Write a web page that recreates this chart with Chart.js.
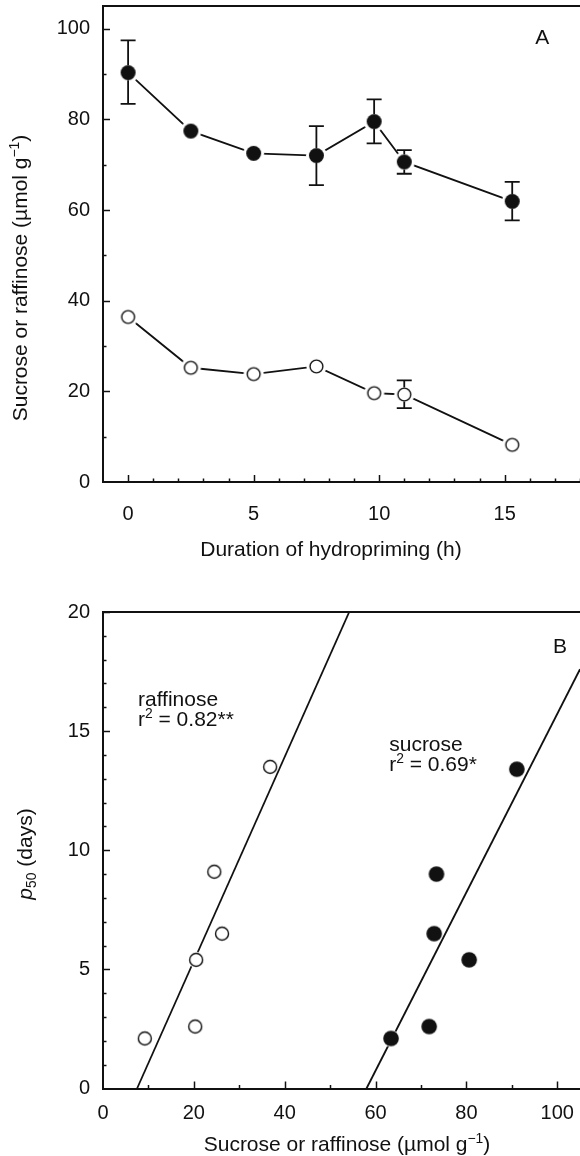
<!DOCTYPE html>
<html>
<head>
<meta charset="utf-8">
<script src="https://cdn.jsdelivr.net/npm/chart.js@4.4.1/dist/chart.umd.min.js"></script>
<style>
  html, body { margin: 0; padding: 0; background: #fff; }
  body { width: 580px; height: 1156px; position: relative; overflow: hidden; }
  canvas { position: absolute; left: 0; }
  #chartA { top: 0; }
  #chartB { top: 580px; }
</style>
</head>
<body>
<canvas id="chartA" width="580" height="575"></canvas>
<canvas id="chartB" width="580" height="576"></canvas>
<script>
// ---- panel A: sugar content during hydropriming ----
const hours = [0, 2.5, 5, 7.5, 9.8, 11, 15.3];
const sucrose = [90.3, 77.4, 72.5, 72.0, 79.5, 70.6, 61.9];
const sucroseHigh = [97.4, null, null, 78.5, 84.4, 73.2, 66.2];
const sucroseLow = [83.4, null, null, 65.5, 74.7, 68.0, 57.7];
const raffinose = [36.4, 25.2, 23.8, 25.5, 19.6, 19.3, 8.2];
const raffinoseHigh = [null, null, null, null, null, 22.4, null];
const raffinoseLow = [null, null, null, null, null, 16.3, null];
const hourLabels = [0, 5, 10, 15];
const contentLabelsA = [0, 20, 40, 60, 80, 100];

// ---- panel B: p50 against sugar content ----
const raffinoseContent = [9.2, 20.3, 20.5, 26.2, 24.5, 36.8];
const raffinoseP50 = [2.1, 2.6, 5.4, 6.5, 9.1, 13.5];
const sucroseContent = [63.4, 71.8, 72.9, 80.6, 73.4, 91.1];
const sucroseP50 = [2.1, 2.6, 6.5, 5.4, 9.0, 13.4];
const raffinoseFitX = [7.5, 54.2];
const raffinoseFitY = [0, 20];
const sucroseFitX = [58.0, 105];
const sucroseFitY = [0, 17.6];
const contentLabelsB = [0, 20, 40, 60, 80, 100];
const p50Labels = [0, 5, 10, 15, 20];

const INK = '#111';
const FONT = '"Liberation Sans", Arial, Helvetica, sans-serif';

function pts(xs, ys) {
    return xs.map((x, i) => ({x: x, y: ys[i]}));
}

// circle marker with a white halo so lines stop short of it
function marker(filled, r, halo, lw) {
    const size = Math.ceil(2 * (r + halo) + 2);
    const c = document.createElement('canvas');
    c.width = c.height = size;
    const g = c.getContext('2d');
    const m = size / 2;
    if (halo > 0) {
        g.fillStyle = '#fff';
        g.beginPath(); g.arc(m, m, r + halo, 0, Math.PI * 2); g.fill();
    }
    g.beginPath();
    g.arc(m, m, filled ? r : r - lw / 2, 0, Math.PI * 2);
    if (filled) {
        g.fillStyle = INK; g.fill();
    } else {
        g.fillStyle = '#fff'; g.fill();
        g.lineWidth = lw; g.strokeStyle = INK; g.stroke();
    }
    return c;
}

function richText(ctx, parts, x, y, size, align, rot) {
    ctx.save();
    ctx.translate(x, y);
    if (rot) ctx.rotate(rot);
    const items = parts.map(p => {
        const small = p.sup || p.sub;
        const s = small ? size * 0.66 : size;
        const font = (p.it ? 'italic ' : '') + s + 'px ' + FONT;
        ctx.font = font;
        return {t: p.t, font: font, w: ctx.measureText(p.t).width,
                dy: p.sup ? -size * 0.38 : (p.sub ? size * 0.2 : 0)};
    });
    const total = items.reduce((a, b) => a + b.w, 0);
    let cx = align === 'left' ? 0 : -total / 2;
    const base = size * 0.36;
    ctx.fillStyle = INK;
    ctx.textAlign = 'left';
    ctx.textBaseline = 'alphabetic';
    items.forEach(it => {
        ctx.font = it.font;
        ctx.fillText(it.t, cx, base + it.dy);
        cx += it.w;
    });
    ctx.restore();
}

// inward tick marks, top frame line, error bars and text
function figurePlugin(cfg) {
    return {
        id: 'figure',
        afterDatasetsDraw(chart) {
            const ctx = chart.ctx;
            const xs = chart.scales.x, ys = chart.scales.y;
            ctx.save();
            ctx.strokeStyle = INK;
            ctx.lineWidth = 1.8;
            (cfg.errorBars || []).forEach(eb => {
                eb.xs.forEach((xv, i) => {
                    const px = xs.getPixelForValue(xv);
                    const py = ys.getPixelForValue(eb.ys[i]);
                    [eb.hi[i], eb.lo[i]].forEach(v => {
                        if (v === null) return;
                        const pv = ys.getPixelForValue(v);
                        const dir = pv < py ? -1 : 1;
                        if (Math.abs(pv - py) <= eb.r) return;
                        ctx.beginPath();
                        ctx.moveTo(px, py + dir * eb.r);
                        ctx.lineTo(px, pv);
                        ctx.moveTo(px - 7.5, pv);
                        ctx.lineTo(px + 7.5, pv);
                        ctx.stroke();
                    });
                });
            });
            ctx.restore();
        },
        afterDraw(chart) {
            const ctx = chart.ctx;
            const a = chart.chartArea;
            const xs = chart.scales.x, ys = chart.scales.y;
            ctx.save();
            ctx.strokeStyle = INK;
            ctx.lineWidth = 1.5;
            xs.ticks.forEach(t => {
                if (t.value === xs.min) return;
                const px = Math.round(xs.getPixelForValue(t.value)) + 0.5;
                const len = cfg.xLabels.includes(t.value) ? 7 : 3.5;
                ctx.beginPath(); ctx.moveTo(px, a.bottom); ctx.lineTo(px, a.bottom - len); ctx.stroke();
            });
            ys.ticks.forEach(t => {
                if (t.value === ys.min) return;
                const py = Math.round(ys.getPixelForValue(t.value)) + 0.5;
                const len = cfg.yLabels.includes(t.value) ? 7 : 3.5;
                ctx.beginPath(); ctx.moveTo(a.left, py); ctx.lineTo(a.left + len, py); ctx.stroke();
            });
            ctx.lineWidth = 2;
            ctx.beginPath(); ctx.moveTo(a.left, a.top); ctx.lineTo(a.right, a.top); ctx.stroke();
            ctx.restore();

            cfg.texts.forEach(tx => {
                let x = tx.x, y = tx.y;
                if (tx.data) {
                    x = xs.getPixelForValue(tx.x);
                    y = ys.getPixelForValue(tx.y);
                }
                richText(ctx, tx.parts, x, y, tx.size, tx.align, tx.rot);
            });
        }
    };
}

function axis(min, max, step, labels, padding, fit) {
    return {
        type: 'linear',
        min: min,
        max: max,
        grid: {display: false, drawTicks: false},
        border: {display: true, color: INK, width: 2},
        ticks: {
            stepSize: step,
            includeBounds: false,
            autoSkip: false,
            maxRotation: 0,
            padding: padding,
            color: INK,
            font: {family: FONT, size: 20},
            callback: v => labels.includes(v) ? v : ''
        },
        afterFit: s => {
            // fixed axis boxes, no extra room for edge labels
            s.paddingLeft = s.paddingRight = s.paddingTop = s.paddingBottom = 0;
            fit(s);
        }
    };
}

const baseOptions = {
    responsive: false,
    animation: false,
    events: [],
    plugins: {legend: {display: false}, tooltip: {enabled: false}}
};

const filledA = marker(true, 7.5, 3, 1.5);
const openA = marker(false, 7.1, 3, 1.4);

new Chart(document.getElementById('chartA'), {
    type: 'scatter',
    data: {
        datasets: [{
            label: 'Sucrose',
            data: pts(hours, sucrose),
            showLine: true,
            borderColor: INK,
            borderWidth: 1.8,
            pointStyle: filledA,
            pointRadius: 8
        }, {
            label: 'Raffinose',
            data: pts(hours, raffinose),
            showLine: true,
            borderColor: INK,
            borderWidth: 1.8,
            pointStyle: openA,
            pointRadius: 8
        }]
    },
    options: Object.assign({}, baseOptions, {
        layout: {autoPadding: false, padding: {top: 6, right: 0, bottom: 0, left: 0}},
        scales: {
            x: axis(-1, 18, 1, hourLabels, 20, s => { s.height = 93; }),
            y: axis(0, 105, 10, contentLabelsA, 13, s => { s.width = 103; })
        }
    }),
    plugins: [figurePlugin({
        xLabels: hourLabels,
        yLabels: contentLabelsA,
        errorBars: [
            {xs: hours, ys: sucrose, hi: sucroseHigh, lo: sucroseLow, r: 7.5},
            {xs: hours, ys: raffinose, hi: raffinoseHigh, lo: raffinoseLow, r: 7.1}
        ],
        texts: [
            {parts: [{t: 'A'}], x: 16.5, y: 98.2, data: true, size: 21},
            {parts: [{t: 'Duration of hydropriming (h)'}], x: 331, y: 548, size: 21},
            {parts: [{t: 'Sucrose or raffinose (µmol g'}, {t: '−1', sup: true}, {t: ')'}],
             x: 19, y: 278, size: 21, rot: -Math.PI / 2}
        ]
    })]
});

const filledB = marker(true, 7.8, 0.8, 1.5);
const openB = marker(false, 7.2, 0.8, 1.4);

new Chart(document.getElementById('chartB'), {
    type: 'scatter',
    data: {
        datasets: [{
            label: 'Sucrose',
            data: pts(sucroseContent, sucroseP50),
            pointStyle: filledB,
            pointRadius: 8,
            order: 1
        }, {
            label: 'Raffinose',
            data: pts(raffinoseContent, raffinoseP50),
            pointStyle: openB,
            pointRadius: 8,
            order: 1
        }, {
            label: 'Raffinose fit',
            data: pts(raffinoseFitX, raffinoseFitY),
            showLine: true,
            borderColor: INK,
            borderWidth: 1.8,
            pointRadius: 0,
            order: 2
        }, {
            label: 'Sucrose fit',
            data: pts(sucroseFitX, sucroseFitY),
            showLine: true,
            borderColor: INK,
            borderWidth: 1.8,
            pointRadius: 0,
            order: 2
        }]
    },
    options: Object.assign({}, baseOptions, {
        layout: {autoPadding: false, padding: {top: 32, right: 0, bottom: 0, left: 0}},
        scales: {
            x: axis(0, 105, 10, contentLabelsB, 13, s => { s.height = 67.5; }),
            y: axis(0, 20, 1, p50Labels, 13, s => { s.width = 103; })
        }
    }),
    plugins: [figurePlugin({
        xLabels: contentLabelsB,
        yLabels: p50Labels,
        texts: [
            {parts: [{t: 'B'}], x: 100.6, y: 18.6, data: true, size: 21},
            {parts: [{t: 'raffinose'}], x: 7.7, y: 16.37, data: true, size: 21, align: 'left'},
            {parts: [{t: 'r'}, {t: '2', sup: true}, {t: ' = 0.82**'}], x: 7.7, y: 15.53, data: true, size: 21, align: 'left'},
            {parts: [{t: 'sucrose'}], x: 63.0, y: 14.5, data: true, size: 21, align: 'left'},
            {parts: [{t: 'r'}, {t: '2', sup: true}, {t: ' = 0.69*'}], x: 63.0, y: 13.64, data: true, size: 21, align: 'left'},
            {parts: [{t: 'Sucrose or raffinose (µmol g'}, {t: '−1', sup: true}, {t: ')'}], x: 347, y: 563, size: 21},
            {parts: [{t: 'p', it: true}, {t: '50', sub: true}, {t: ' (days)'}],
             x: 24, y: 274, size: 21, rot: -Math.PI / 2}
        ]
    })]
});
</script>
</body>
</html>
